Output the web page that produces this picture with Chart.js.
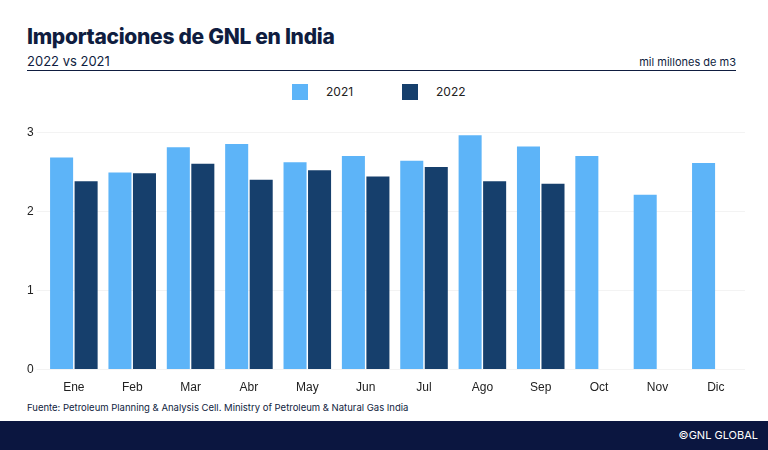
<!DOCTYPE html>
<html><head><meta charset="utf-8">
<script src="https://cdn.jsdelivr.net/npm/chart.js@4"></script>
<style>
body{margin:0;width:768px;height:450px;background:#fff;font-family:Inter,"Open Sans",sans-serif;position:relative;overflow:hidden;color:#0f1d40}
#t{position:absolute;left:27px;top:24px;font-size:21px;font-weight:800;letter-spacing:-0.3px}
#s{position:absolute;left:27px;top:53px;font-size:13px}
#u{position:absolute;right:32px;top:55px;font-size:11px}
#ln{position:absolute;left:27px;right:32px;top:70px;border-top:1.5px solid #0f1d40}
#c{position:absolute;left:24px;top:122px;width:721px;height:276px}
.lg{position:absolute;top:84px;font-size:12px;color:#222;line-height:16px}
.lg span{display:inline-block;width:16px;height:16px;vertical-align:top;margin-right:18px}
#src{position:absolute;left:27px;top:402px;font-size:9.5px}
#f{position:absolute;left:0;right:0;top:421px;height:29px;background:#0b1640;color:#fff;font-size:11px;text-align:right;padding-right:10px;line-height:29px}
</style></head><body>
<div id="t">Importaciones de GNL en India</div>
<div id="s">2022 vs 2021</div>
<div id="u">mil millones de m3</div>
<div id="ln"></div>
<div class="lg" style="left:292px"><span style="background:#5db4f8"></span>2021</div>
<div class="lg" style="left:402px"><span style="background:#163f6c"></span>2022</div>
<div id="c"><canvas id="cv"></canvas></div>
<div id="src">Fuente: Petroleum Planning &amp; Analysis Cell. Ministry of Petroleum &amp; Natural Gas India</div>
<div id="f">©GNL GLOBAL</div>
<script>
const months=["Ene","Feb","Mar","Abr","May","Jun","Jul","Ago","Sep","Oct","Nov","Dic"];
const v2021=[2.68,2.49,2.81,2.85,2.62,2.70,2.64,2.96,2.82,2.70,2.21,2.61];
const v2022=[2.38,2.48,2.60,2.40,2.52,2.44,2.56,2.38,2.35,null,null,null];
new Chart(document.getElementById('cv'),{type:'bar',
data:{labels:months,datasets:[
{label:'2021',data:v2021,backgroundColor:'#5db4f8',barPercentage:0.94,categoryPercentage:0.84},
{label:'2022',data:v2022,backgroundColor:'#163f6c',barPercentage:0.94,categoryPercentage:0.84}]},
options:{responsive:true,maintainAspectRatio:false,animation:false,
layout:{padding:{top:6,right:0}},
plugins:{legend:{display:false},tooltip:{enabled:false}},
scales:{x:{grid:{display:false},border:{display:false},ticks:{color:'#222',font:{size:12}}},
y:{min:0,max:3,ticks:{stepSize:1,color:'#222',font:{size:12}},grid:{color:'#f3f3f3'},border:{display:false}}}}});
</script></body></html>
